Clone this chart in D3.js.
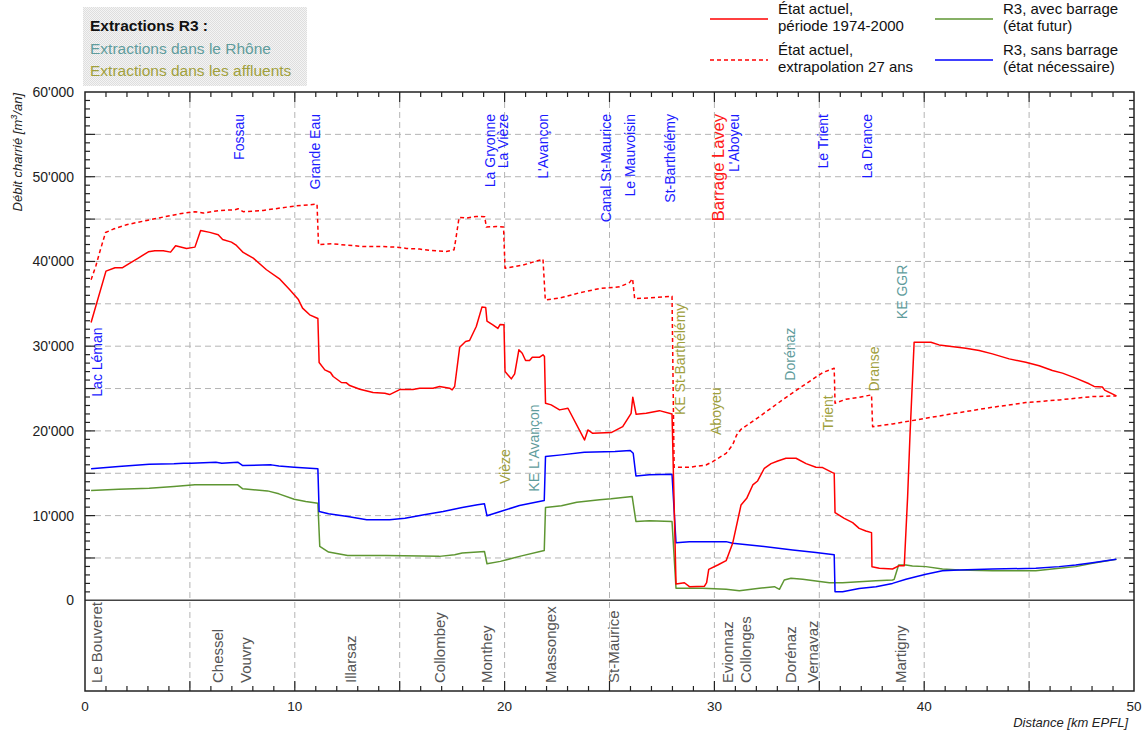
<!DOCTYPE html>
<html>
<head>
<meta charset="utf-8">
<script src="https://cdn.jsdelivr.net/npm/d3@7"></script>
<style>
  html, body { margin: 0; padding: 0; background: #fff; }
  svg { display: block; font-family: "Liberation Sans", Arial, sans-serif; }
</style>
</head>
<body>
<svg id="chart" width="1145" height="734"></svg>
<script>
// Bedload discharge along the Rhône, Le Bouveret → Martigny  [km, m³/an]
const etatActuel = [[0.29,32800],[1.0,38860],[1.43,39260],[1.79,39260],[2.14,39800],[2.54,40400],[3.02,41140],[3.33,41260],[3.73,41260],[4.08,41100],[4.32,41850],[4.84,41540],[5.24,41690],[5.51,43660],[5.95,43430],[6.35,43150],[6.56,42600],[6.98,42280],[7.22,41890],[7.54,41060],[8.02,40390],[8.65,39020],[9.29,37910],[9.76,36650],[10.16,35550],[10.37,34490],[10.71,33700],[11.1,33270],[11.16,28070],[11.43,27200],[11.7,26890],[11.83,26420],[12.22,25710],[12.46,25670],[12.62,25350],[13.1,24920],[13.73,24530],[14.29,24450],[14.52,24290],[15.0,24880],[15.63,24880],[15.95,25040],[16.59,25040],[16.9,25240],[17.38,25040],[17.5,24840],[17.62,25240],[17.86,29880],[18.14,30550],[18.33,30670],[18.65,32320],[18.92,34610],[19.1,34570],[19.16,32950],[19.44,32520],[19.68,32090],[19.79,32560],[19.97,32520],[20.02,27010],[20.32,26140],[20.48,26730],[20.68,29570],[20.84,29170],[21.0,28310],[21.19,28310],[21.32,28700],[21.67,28700],[21.83,28980],[21.9,28780],[21.95,23270],[22.22,23070],[22.62,22480],[23.02,22670],[23.81,18930],[23.97,20110],[24.2,19720],[25.08,19800],[25.63,20500],[26.03,22080],[26.11,23970],[26.27,21960],[26.75,22080],[27.38,22390],[27.98,22000],[28.17,1925],[28.57,2080],[28.81,1610],[29.52,1650],[29.63,2080],[29.73,3660],[30.16,4170],[30.56,4680],[30.87,6730],[31.27,11260],[31.54,12040],[31.83,13620],[32.06,14090],[32.38,15590],[32.7,16140],[33.02,16450],[33.41,16770],[33.89,16770],[34.37,16140],[34.84,15710],[35.16,15670],[35.63,15070],[35.71,15000],[35.75,10350],[36.19,9680],[36.59,9170],[36.9,8500],[37.22,8190],[37.49,7990],[37.51,3970],[37.86,3780],[38.49,3700],[38.81,4090],[39.05,4090],[39.21,12240],[39.32,19320],[39.52,30470],[40.32,30470],[40.71,30150],[41.98,29760],[42.62,29480],[43.25,29090],[44.05,28500],[44.84,28110],[45.48,27680],[46.11,27130],[46.59,26820],[47.22,26230],[47.86,25560],[48.1,25250],[48.49,25170],[48.62,24780],[48.89,24460],[49.16,24130]];

const etatExtrapole = [[0.29,37830],[0.52,39490],[0.71,41180],[0.98,43420],[1.35,43820],[1.98,44330],[2.94,44840],[3.73,45240],[4.52,45630],[5.24,45870],[5.63,45710],[6.43,46020],[7.14,46100],[7.3,46220],[7.54,45870],[8.49,46020],[9.29,46300],[10.08,46570],[10.71,46690],[11.06,46770],[11.13,41970],[11.75,42090],[12.46,41930],[13.25,41770],[14.05,41770],[14.84,41690],[15.32,41540],[15.95,41460],[16.43,41300],[17.22,41180],[17.59,41380],[17.67,42560],[17.83,45200],[18.17,45120],[18.65,45310],[19.05,45280],[19.13,44060],[19.6,44130],[19.95,44060],[20.02,39210],[20.87,39570],[21.83,40270],[21.94,35470],[22.62,35670],[23.57,36300],[24.52,36800],[25.48,37000],[25.95,37500],[26.1,37950],[26.2,35600],[26.9,35700],[27.98,35900],[28.08,15710],[28.81,15710],[29.6,15980],[29.92,16370],[30.56,17360],[30.87,18340],[31.06,19520],[31.27,20190],[32.14,21680],[33.25,23660],[34.05,25040],[35.16,26880],[35.71,27400],[35.75,23270],[36.27,23730],[36.9,23970],[37.49,24250],[37.54,20500],[38.49,20820],[40.08,21490],[41.67,22160],[43.25,22790],[44.84,23340],[46.43,23660],[48.02,24050],[49.16,24130]];

const r3SansBarrage = [[0.29,15520],[1.6,15790],[3.06,16070],[4.24,16110],[4.7,16180],[5.06,16180],[6.24,16300],[6.52,16180],[7.28,16300],[7.52,15910],[8.88,15990],[9.24,15870],[9.97,15710],[11.1,15520],[11.16,10490],[11.61,10210],[12.52,9900],[13.43,9510],[14.52,9510],[15.25,9700],[16.16,10100],[17.07,10490],[17.98,10960],[18.71,11270],[19.04,11390],[19.16,9980],[19.8,10490],[20.71,11190],[21.89,11780],[21.95,16970],[22.71,17170],[23.8,17480],[25.26,17560],[25.99,17680],[26.13,17360],[26.26,14690],[26.9,14810],[27.98,14880],[28.17,6800],[28.81,6930],[30.56,6930],[30.87,6730],[32.14,6420],[33.73,5950],[34.84,5640],[35.71,5370],[35.75,1020],[36.11,1020],[36.9,1410],[37.7,1610],[38.49,2000],[39.13,2480],[39.6,2790],[40.08,3070],[40.87,3500],[41.67,3580],[43.25,3700],[45.32,3780],[46.43,3980],[47.22,4170],[48.02,4450],[49.16,4840]];

const r3AvecBarrage = [[0.29,12960],[1.6,13120],[3.06,13240],[4.24,13430],[5.24,13630],[7.28,13630],[7.52,13160],[8.7,12920],[9.24,12570],[9.97,11940],[10.52,11670],[11.1,11470],[11.19,6360],[11.61,5700],[12.52,5300],[14.34,5300],[16.89,5190],[17.62,5380],[17.98,5580],[18.71,5700],[19.04,5770],[19.16,4320],[19.8,4600],[20.71,5190],[21.89,5890],[21.95,10960],[22.71,11160],[23.44,11590],[24.53,11860],[25.08,11980],[26.08,12260],[26.26,9310],[26.9,9390],[27.98,9310],[28.17,1420],[29.44,1420],[30.56,1300],[31.19,1140],[32.14,1420],[32.86,1610],[33.1,1300],[33.33,2400],[33.65,2600],[34.21,2480],[34.84,2280],[35.48,2090],[36.11,2090],[36.9,2200],[37.7,2320],[38.49,2400],[38.57,2480],[38.78,4170],[39.13,4170],[39.44,4050],[40.08,3980],[40.87,3700],[41.67,3580],[43.25,3500],[45.32,3500],[46.43,3780],[47.22,3980],[48.02,4370],[49.16,4840]];

// Tributaries (name, km)
const affluents = [["Fossau",7.35],["Grande Eau",10.95],["La Gryonne",19.29],["La Vièze",19.92],["L'Avançon",21.83],["Canal St-Maurice",24.84],["Le Mauvoisin",25.98],["St-Barthélémy",27.9],["L'Aboyeu",30.95],["Le Trient",35.16],["La Drance",37.3]];
const barrage = ["Barrage Lavey", 30.16];

// Extraction sites (name, km, débit at label foot, group)
const extractions = [["Vièze",20.0,13730,"affluent"],["KE L'Avançon",21.4,12830,"rhone"],["KE St-Barthélémy",28.35,21880,"affluent"],["Aboyeu",30.07,19520,"affluent"],["Dorénaz",33.6,25930,"rhone"],["Trient",35.4,20040,"affluent"],["Dranse",37.62,24640,"affluent"],["KE GGR",38.96,33190,"rhone"]];
const lac = ["Lac Léman", 0.57, 24040];

// Localities along the valley (name, km)
const localites = [["Le Bouveret",0.57],["Chessel",6.33],["Vouvry",7.64],["Illarsaz",12.65],["Collombey",16.9],["Monthey",19.14],["Massongex",22.18],["St-Maurice",25.19],["Evionnaz",30.65],["Collonges",31.48],["Dorénaz",33.62],["Vernavaz",34.7],["Martigny",38.89]];

const xTickLabels = [0, 10, 20, 30, 40, 50];
const yTickLabels = [0, 10000, 20000, 30000, 40000, 50000, 60000];
const yBandFloor = -10700;

const colRhone = "#5f9c9c", colAffl = "#a0a03c";
const colors = { actuel: "#ff0000", avec: "#5e9632", sans: "#0000ff" };

const svg = d3.select("#chart");
const x = d3.scaleLinear().domain([0, 50]).range([85, 1134]);
const y = d3.scaleLinear().domain([yBandFloor, 60000]).range([691, 92]);
const FONT = '"Liberation Sans", Arial, sans-serif';

// grid
const grid = svg.append("g").attr("stroke", "#b4b4b4").attr("stroke-dasharray", "6,4").attr("stroke-width", 1);
grid.selectAll("line.v").data(d3.range(5, 50, 5)).join("line")
  .attr("x1", d => x(d)).attr("x2", d => x(d)).attr("y1", y(60000)).attr("y2", y(yBandFloor));
grid.selectAll("line.h").data(d3.range(5000, 60000, 5000)).join("line")
  .attr("x1", x(0)).attr("x2", x(50)).attr("y1", d => y(d)).attr("y2", d => y(d));

// zero line separating the localities band
svg.append("line").attr("x1", x(0)).attr("x2", x(50)).attr("y1", y(0)).attr("y2", y(0))
  .attr("stroke", "#444").attr("stroke-width", 1.5);

// series
const line = d3.line().x(d => x(d[0])).y(d => y(d[1]));
const series = [
  [r3AvecBarrage, colors.avec, null],
  [r3SansBarrage, colors.sans, null],
  [etatExtrapole, colors.actuel, "4,3"],
  [etatActuel, colors.actuel, null]
];
series.forEach(([data, c, dash]) => {
  svg.append("path").datum(data).attr("d", line).attr("fill", "none")
    .attr("stroke", c).attr("stroke-width", 1.5).attr("stroke-linejoin", "round")
    .attr("stroke-dasharray", dash);
});

// vertical labels helper
function vlabel(g, text, px, py, anchor, size, color) {
  g.append("text").attr("transform", `translate(${px},${py}) rotate(-90)`)
    .attr("text-anchor", anchor).attr("dy", "0.35em")
    .attr("font-size", size).attr("fill", color).text(text);
}
const labels = svg.append("g").attr("font-family", FONT);
affluents.forEach(([n, k]) => vlabel(labels, n, x(k), 114, "end", 14, "#1a1aff"));
vlabel(labels, barrage[0], x(barrage[1]), 114, "end", 16.5, "#ff1a1a");
extractions.forEach(([n, k, v, g]) => vlabel(labels, n, x(k), y(v), "start", 14, g === "rhone" ? colRhone : colAffl));
vlabel(labels, lac[0], x(lac[1]), y(lac[2]), "start", 14, "#1a1aff");
localites.forEach(([n, k]) => vlabel(labels, n, x(k), 683, "start", 15, "#555"));

// frame
svg.append("rect").attr("x", x(0)).attr("y", y(60000)).attr("width", x(50) - x(0)).attr("height", y(yBandFloor) - y(60000))
  .attr("fill", "none").attr("stroke", "#222").attr("stroke-width", 1.5);

// ticks
const tk = svg.append("g").attr("stroke", "#222").attr("stroke-width", 1.2);
const xt = d3.range(1, 50);
tk.selectAll("line.xb").data(xt).join("line")
  .attr("x1", d => x(d)).attr("x2", d => x(d))
  .attr("y1", y(yBandFloor)).attr("y2", d => y(yBandFloor) - (d % 5 === 0 ? 10 : 5));
tk.selectAll("line.xt").data(xt).join("line")
  .attr("x1", d => x(d)).attr("x2", d => x(d))
  .attr("y1", y(60000)).attr("y2", d => y(60000) + (d % 5 === 0 ? 10 : 5));
const yt = d3.range(1000, 60000, 1000);
tk.selectAll("line.yl").data(yt).join("line")
  .attr("y1", d => y(d)).attr("y2", d => y(d))
  .attr("x1", x(0)).attr("x2", d => x(0) + (d % 5000 === 0 ? 10 : 5));
tk.selectAll("line.yr").data(yt).join("line")
  .attr("y1", d => y(d)).attr("y2", d => y(d))
  .attr("x1", x(50)).attr("x2", d => x(50) - (d % 5000 === 0 ? 10 : 5));

// tick labels
const fmt = v => d3.format(",")(v).replace(/,/g, "'");
svg.append("g").attr("font-family", FONT).attr("font-size", 14).attr("fill", "#222")
  .selectAll("text").data(yTickLabels).join("text")
  .attr("x", 74).attr("y", d => y(d)).attr("dy", "0.35em").attr("text-anchor", "end").text(fmt);
svg.append("g").attr("font-family", FONT).attr("font-size", 13.5).attr("fill", "#222")
  .selectAll("text").data(xTickLabels).join("text")
  .attr("x", d => x(d)).attr("y", 711).attr("text-anchor", "middle").text(d => d);

// axis titles
svg.append("text").attr("transform", "translate(22,93) rotate(-90)").attr("text-anchor", "end")
  .attr("font-family", FONT).attr("font-size", 13).attr("font-style", "italic").attr("fill", "#222")
  .html('Débit charrié [m<tspan dy="-5" font-size="9">3</tspan><tspan dy="5">/an]</tspan>');
svg.append("text").attr("x", 1128).attr("y", 727).attr("text-anchor", "end")
  .attr("font-family", FONT).attr("font-size", 13).attr("font-style", "italic").attr("fill", "#222")
  .text("Distance [km EPFL]");

// extractions key box
const defs = svg.append("defs");
const pat = defs.append("pattern").attr("id", "hatch").attr("width", 2).attr("height", 2).attr("patternUnits", "userSpaceOnUse");
pat.append("rect").attr("width", 2).attr("height", 2).attr("fill", "#f4f4f4");
pat.append("rect").attr("width", 1).attr("height", 1).attr("fill", "#dedede");
pat.append("rect").attr("x", 1).attr("y", 1).attr("width", 1).attr("height", 1).attr("fill", "#dedede");
svg.append("rect").attr("x", 83).attr("y", 7).attr("width", 224).attr("height", 79).attr("fill", "url(#hatch)");
const key = svg.append("g").attr("font-family", FONT).attr("font-size", 15.5);
key.append("text").attr("x", 90).attr("y", 31).attr("font-weight", "bold").attr("fill", "#111").text("Extractions R3 :");
key.append("text").attr("x", 90).attr("y", 54).attr("fill", colRhone).text("Extractions dans le Rhône");
key.append("text").attr("x", 90).attr("y", 76).attr("fill", colAffl).text("Extractions dans les affluents");

// series legend
const legendItems = [
  { c: colors.actuel, dash: null, lx: 710, ly: 19, t: ["État actuel,", "période 1974-2000"] },
  { c: colors.actuel, dash: "4,3", lx: 710, ly: 60, t: ["État actuel,", "extrapolation 27 ans"] },
  { c: colors.avec, dash: null, lx: 935, ly: 19, t: ["R3, avec barrage", "(état futur)"] },
  { c: colors.sans, dash: null, lx: 935, ly: 60, t: ["R3, sans barrage", "(état nécessaire)"] }
];
const lg = svg.append("g").attr("font-family", FONT).attr("font-size", 15).attr("fill", "#111");
legendItems.forEach(it => {
  lg.append("line").attr("x1", it.lx).attr("x2", it.lx + 58).attr("y1", it.ly).attr("y2", it.ly)
    .attr("stroke", it.c).attr("stroke-width", 1.5).attr("stroke-dasharray", it.dash);
  lg.append("text").attr("x", it.lx + 68).attr("y", it.ly - 5).text(it.t[0]);
  lg.append("text").attr("x", it.lx + 68).attr("y", it.ly + 12).text(it.t[1]);
});
</script>
</body>
</html>
